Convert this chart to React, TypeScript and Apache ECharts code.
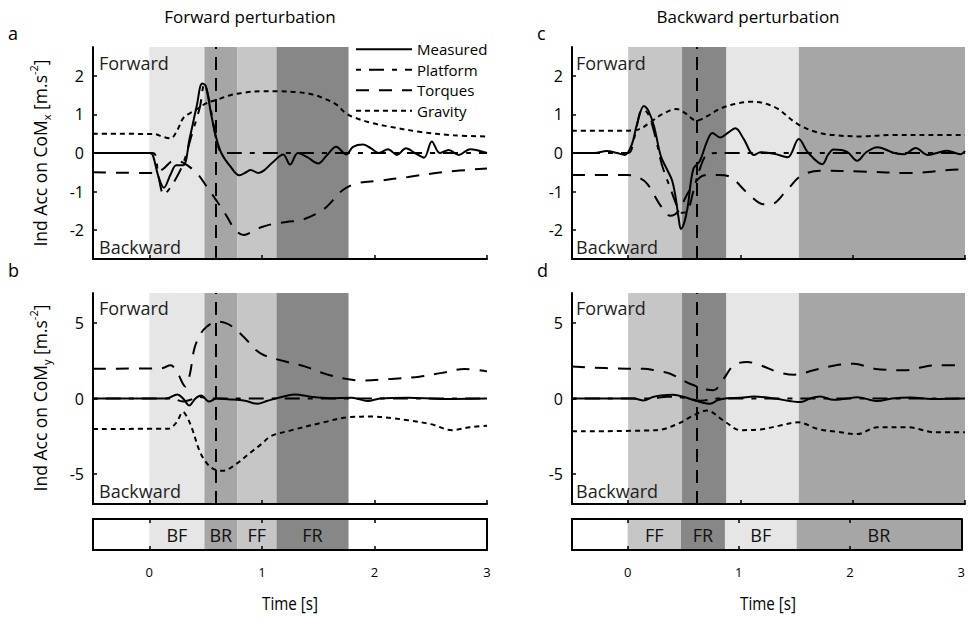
import React, { useEffect, useRef } from 'react';
import * as echarts from 'echarts';

// Time axis and tick values
const T_MIN = -0.5;
const T_MAX = 3;
const timeTicks = [0, 1, 2, 3];
const accXTicks = [-2, -1, 0, 1, 2];
const accYTicks = [-5, 0, 5];
const ACCX_RANGE = 2.75;
const ACCY_RANGE = 7;

// Phases (start/end boundaries in seconds)
const fwdPhaseNames = ['BF', 'BR', 'FF', 'FR'];
const fwdPhaseBounds = [0, 0.49, 0.78, 1.13, 1.77];
const bwdPhaseNames = ['FF', 'FR', 'BF', 'BR'];
const bwdPhaseBounds = [0, 0.48, 0.875, 1.52, 3];
const fwdOnset = 0.59;
const bwdOnset = 0.61;

const seriesNames = ['Measured', 'Platform', 'Torques', 'Gravity'];

// Forward perturbation, CoM x
const fwdXMeasured = [[-0.5, 0], [0.0, 0], [0.03, -0.05], [0.08, -0.6], [0.13, -0.9], [0.19, -0.55], [0.24, -0.32], [0.3, -0.32], [0.36, 0.4], [0.42, 1.2], [0.47, 1.8], [0.5, 1.75], [0.55, 1.0], [0.59, 0.45], [0.64, 0.0], [0.72, -0.35], [0.8, -0.58], [0.86, -0.5], [0.9, -0.44], [0.97, -0.52], [1.02, -0.45], [1.09, -0.26], [1.19, -0.04], [1.25, -0.3], [1.32, 0.0], [1.4, -0.1], [1.5, -0.27], [1.58, -0.05], [1.66, 0.16], [1.75, -0.04], [1.81, 0.16], [1.9, 0.22], [1.97, 0.12], [2.04, 0.0], [2.12, 0.1], [2.2, -0.05], [2.28, 0.12], [2.36, 0.0], [2.44, -0.12], [2.51, 0.3], [2.58, 0.0], [2.66, 0.08], [2.75, -0.05], [2.85, 0.1], [3.0, 0.0]];
const fwdXPlatform = [[-0.5, 0], [0.03, 0], [0.08, -0.6], [0.13, -1.08], [0.16, -1.0], [0.22, -0.75], [0.3, -0.28], [0.38, 0.5], [0.45, 1.2], [0.49, 1.8], [0.53, 1.4], [0.56, 0.9], [0.6, 0.3], [0.64, 0.02], [0.7, 0], [3, 0]];
const fwdXTorques = [[-0.5, -0.5], [0.05, -0.52], [0.12, -0.42], [0.22, -0.2], [0.3, -0.25], [0.42, -0.52], [0.51, -0.87], [0.6, -1.25], [0.68, -1.6], [0.76, -1.98], [0.84, -2.13], [0.92, -2.03], [1.0, -1.92], [1.1, -1.84], [1.22, -1.79], [1.37, -1.72], [1.54, -1.48], [1.64, -1.2], [1.72, -0.96], [1.84, -0.79], [2.04, -0.72], [2.3, -0.62], [2.6, -0.5], [3.0, -0.4]];
const fwdXGravity = [[-0.5, 0.5], [0.05, 0.49], [0.12, 0.42], [0.19, 0.38], [0.25, 0.6], [0.3, 0.9], [0.36, 1.03], [0.43, 1.15], [0.5, 1.28], [0.6, 1.38], [0.72, 1.5], [0.85, 1.57], [1.0, 1.6], [1.15, 1.6], [1.31, 1.58], [1.45, 1.52], [1.54, 1.43], [1.66, 1.26], [1.75, 1.02], [1.84, 0.9], [1.99, 0.77], [2.14, 0.68], [2.4, 0.55], [2.7, 0.46], [3.0, 0.43]];

// Forward perturbation, CoM y
const fwdYMeasured = [[-0.5, 0], [0.15, 0], [0.25, 0.27], [0.3, 0.0], [0.355, -0.46], [0.41, 0.0], [0.46, 0.2], [0.53, -0.2], [0.6, 0], [0.7, -0.05], [0.85, -0.15], [0.96, -0.35], [1.05, -0.15], [1.15, 0.05], [1.29, 0.27], [1.45, 0.1], [1.6, 0.02], [1.8, 0.05], [1.94, -0.17], [2.05, 0], [2.3, 0.05], [2.6, -0.03], [3, 0]];
const fwdYPlatform = [[-0.5, 0], [0.2, 0], [0.3, -0.2], [0.36, -0.1], [0.45, 0.1], [0.55, 0], [3, 0]];
const fwdYTorques = [[-0.5, 1.98], [0.1, 2.0], [0.19, 2.2], [0.25, 1.7], [0.32, 0.8], [0.36, 1.6], [0.4, 3.3], [0.45, 4.2], [0.5, 4.7], [0.6, 5.1], [0.68, 5.0], [0.75, 4.7], [0.85, 4.0], [0.95, 3.2], [1.02, 2.87], [1.2, 2.47], [1.38, 2.13], [1.56, 1.64], [1.77, 1.27], [1.9, 1.2], [2.15, 1.3], [2.4, 1.45], [2.6, 1.7], [2.8, 1.95], [3, 1.8]];
const fwdYGravity = [[-0.5, -2.02], [0.17, -2.0], [0.24, -1.6], [0.3, -0.9], [0.34, -1.3], [0.38, -2.0], [0.46, -3.7], [0.55, -4.58], [0.65, -4.8], [0.75, -4.46], [0.9, -3.58], [1.0, -3.0], [1.08, -2.5], [1.25, -2.13], [1.55, -1.58], [1.77, -1.24], [2.0, -1.2], [2.15, -1.3], [2.3, -1.45], [2.5, -1.7], [2.69, -2.1], [2.85, -1.9], [3, -1.8]];

// Backward perturbation, CoM x
const bwdXMeasured = [[-0.5, 0], [-0.3, 0], [-0.19, 0.05], [-0.1, 0], [-0.03, -0.05], [0.03, 0.2], [0.08, 0.76], [0.14, 1.22], [0.18, 1.1], [0.23, 0.7], [0.29, -0.07], [0.345, -0.42], [0.39, -0.7], [0.42, -1.1], [0.45, -1.7], [0.47, -1.97], [0.5, -1.8], [0.53, -1.4], [0.58, -0.42], [0.64, -0.2], [0.7, 0.28], [0.75, 0.52], [0.82, 0.4], [0.9, 0.55], [0.955, 0.64], [1.03, 0.36], [1.12, -0.05], [1.18, 0.02], [1.3, -0.02], [1.42, -0.11], [1.52, 0.36], [1.6, 0.02], [1.73, -0.29], [1.78, -0.05], [1.83, 0.09], [1.95, 0.03], [2.04, -0.2], [2.12, 0.02], [2.22, 0.15], [2.37, 0], [2.46, -0.03], [2.56, 0.13], [2.67, -0.05], [2.75, 0.0], [2.84, 0.06], [2.96, -0.03], [3, 0.05]];
const bwdXPlatform = [[-0.5, 0], [0, 0], [0.05, 0.35], [0.13, 1.15], [0.18, 1.0], [0.24, 0.45], [0.3, -0.3], [0.38, -0.95], [0.44, -1.4], [0.48, -1.55], [0.53, -1.5], [0.58, -1.0], [0.64, -0.4], [0.7, -0.05], [0.8, 0], [3, 0]];
const bwdXTorques = [[-0.5, -0.57], [-0.01, -0.57], [0.08, -0.62], [0.17, -0.8], [0.29, -1.37], [0.375, -1.63], [0.45, -1.5], [0.52, -1.1], [0.6, -0.75], [0.68, -0.58], [0.8, -0.57], [0.91, -0.62], [1.06, -1.03], [1.21, -1.33], [1.27, -1.33], [1.42, -0.94], [1.54, -0.59], [1.71, -0.46], [2.07, -0.48], [2.52, -0.52], [2.96, -0.43], [3, -0.43]];
const bwdXGravity = [[-0.5, 0.58], [0, 0.58], [0.1, 0.62], [0.2, 0.8], [0.3, 1.0], [0.43, 1.14], [0.5, 1.05], [0.61, 0.84], [0.7, 0.95], [0.82, 1.15], [0.95, 1.27], [1.1, 1.33], [1.2, 1.3], [1.33, 1.15], [1.51, 0.75], [1.69, 0.53], [1.85, 0.46], [2.07, 0.43], [2.37, 0.47], [2.7, 0.47], [3, 0.47]];

// Backward perturbation, CoM y
const bwdYMeasured = [[-0.5, 0], [0.05, 0], [0.137, -0.13], [0.22, 0.1], [0.29, 0.2], [0.4, 0.25], [0.5, 0.1], [0.61, -0.17], [0.73, -0.35], [0.8, -0.1], [0.88, 0.02], [1.0, 0.05], [1.12, 0.13], [1.3, 0.0], [1.54, -0.24], [1.62, 0.0], [1.71, 0.13], [1.83, -0.09], [1.95, 0], [2.04, 0.09], [2.22, -0.17], [2.35, 0.0], [2.52, 0.06], [2.7, -0.03], [3, 0]];
const bwdYPlatform = [[-0.5, 0], [0.2, 0], [0.35, 0.12], [0.5, 0.05], [0.65, -0.15], [0.8, 0], [3, 0]];
const bwdYTorques = [[-0.5, 2.13], [-0.01, 1.98], [0.137, 1.98], [0.25, 1.85], [0.375, 1.64], [0.55, 0.98], [0.7, 0.6], [0.76, 0.55], [0.85, 1.3], [0.94, 2.2], [1.06, 2.42], [1.18, 2.2], [1.33, 1.76], [1.48, 1.58], [1.65, 1.87], [1.85, 2.2], [2.01, 2.31], [2.19, 1.98], [2.46, 1.87], [2.73, 2.2], [3, 2.2]];
const bwdYGravity = [[-0.5, -2.18], [0.256, -2.1], [0.435, -1.7], [0.61, -1.02], [0.7, -0.8], [0.85, -1.47], [1.0, -2.1], [1.18, -2.05], [1.35, -1.8], [1.51, -1.58], [1.69, -2.02], [1.85, -2.2], [2.04, -2.36], [2.22, -1.91], [2.49, -1.91], [2.73, -2.24], [3, -2.24]];

const FONT = "'Open Sans', 'Noto Sans', sans-serif";

const phaseColor: Record<string, string> = {
  BF: '#e6e6e6',
  FF: '#c6c6c6',
  BR: '#a6a6a6',
  FR: '#878787',
};

const dashOf: Record<string, any> = {
  Measured: 'solid',
  Platform: [5, 8, 15, 8],
  Torques: [13, 10],
  Gravity: [5, 4],
};

const gridBoxes = [
  { left: 93, top: 47, width: 394, height: 212 },
  { left: 93, top: 293, width: 394, height: 211 },
  { left: 572, top: 47, width: 393, height: 212 },
  { left: 572, top: 293, width: 393, height: 211 },
  { left: 93, top: 519, width: 394, height: 31 },
  { left: 572, top: 519, width: 393, height: 31 },
];

function phaseAreas(names: string[], bounds: number[], withLabel: boolean) {
  return names.map((n, i) => [
    {
      name: n,
      xAxis: bounds[i],
      itemStyle: { color: phaseColor[n] },
      label: { show: withLabel },
    },
    { xAxis: bounds[i + 1] },
  ]);
}

function buildOption() {
  const panels = [
    { lines: [fwdXMeasured, fwdXPlatform, fwdXTorques, fwdXGravity], names: fwdPhaseNames, bounds: fwdPhaseBounds, onset: fwdOnset, range: ACCX_RANGE, ticks: accXTicks },
    { lines: [fwdYMeasured, fwdYPlatform, fwdYTorques, fwdYGravity], names: fwdPhaseNames, bounds: fwdPhaseBounds, onset: fwdOnset, range: ACCY_RANGE, ticks: accYTicks },
    { lines: [bwdXMeasured, bwdXPlatform, bwdXTorques, bwdXGravity], names: bwdPhaseNames, bounds: bwdPhaseBounds, onset: bwdOnset, range: ACCX_RANGE, ticks: accXTicks },
    { lines: [bwdYMeasured, bwdYPlatform, bwdYTorques, bwdYGravity], names: bwdPhaseNames, bounds: bwdPhaseBounds, onset: bwdOnset, range: ACCY_RANGE, ticks: accYTicks },
  ];

  const axisLine = { show: true, onZero: false, lineStyle: { color: '#000', width: 2 } };
  const xAxis: any[] = [];
  const yAxis: any[] = [];
  const series: any[] = [];

  panels.forEach((p, i) => {
    xAxis.push({
      type: 'value', gridIndex: i, min: T_MIN, max: T_MAX, z: 10,
      axisLine,
      axisTick: { show: true, inside: true, length: 4, customValues: timeTicks, lineStyle: { color: '#000', width: 1.5 } },
      axisLabel: { show: false },
      splitLine: { show: false },
    });
    yAxis.push({
      type: 'value', gridIndex: i, min: -p.range, max: p.range, z: 10,
      axisLine,
      axisTick: { show: true, inside: true, length: 4, customValues: p.ticks, lineStyle: { color: '#000', width: 1.5 } },
      axisLabel: { show: true, customValues: p.ticks, margin: 9, color: '#000', fontSize: 16, fontFamily: FONT },
      splitLine: { show: false },
    });
    series.push({
      type: 'line', xAxisIndex: i, yAxisIndex: i, data: [], silent: true, z: 1,
      markArea: { silent: true, data: phaseAreas(p.names, p.bounds, false) },
    });
    p.lines.forEach((d, k) => {
      const name = seriesNames[k];
      const s: any = {
        name, type: 'line', xAxisIndex: i, yAxisIndex: i, data: d,
        symbol: 'none', showSymbol: false, smooth: 0.35, silent: true, z: 3,
        lineStyle: { color: '#000', width: 2, type: dashOf[name] },
        itemStyle: { color: '#000' },
      };
      if (k === 0) {
        s.markLine = {
          silent: true, symbol: 'none', label: { show: false },
          lineStyle: { color: '#000', width: 2, type: [13, 8] },
          data: [{ xAxis: p.onset }],
        };
      }
      series.push(s);
    });
  });

  // Phase bars under each column
  [
    { names: fwdPhaseNames, bounds: fwdPhaseBounds },
    { names: bwdPhaseNames, bounds: bwdPhaseBounds },
  ].forEach((p, j) => {
    const gi = 4 + j;
    const xb = xAxis.length;
    xAxis.push({
      type: 'value', gridIndex: gi, min: T_MIN, max: T_MAX, z: 10, position: 'bottom',
      axisLine,
      axisTick: { show: true, inside: true, length: 4, customValues: timeTicks, lineStyle: { color: '#000', width: 1.5 } },
      axisLabel: { show: true, customValues: timeTicks, margin: 15, color: '#000', fontSize: 13, fontFamily: FONT },
      splitLine: { show: false },
    });
    xAxis.push({
      type: 'value', gridIndex: gi, min: T_MIN, max: T_MAX, z: 10, position: 'top',
      axisLine,
      axisTick: { show: true, inside: true, length: 4, customValues: timeTicks, lineStyle: { color: '#000', width: 1.5 } },
      axisLabel: { show: false },
      splitLine: { show: false },
    });
    const yb = yAxis.length;
    yAxis.push({
      type: 'value', gridIndex: gi, min: 0, max: 1, z: 10, position: 'left',
      axisLine, axisTick: { show: false }, axisLabel: { show: false }, splitLine: { show: false },
    });
    yAxis.push({
      type: 'value', gridIndex: gi, min: 0, max: 1, z: 10, position: 'right',
      axisLine, axisTick: { show: false }, axisLabel: { show: false }, splitLine: { show: false },
    });
    series.push({
      type: 'line', xAxisIndex: xb, yAxisIndex: yb, data: [], silent: true, z: 1,
      markArea: {
        silent: true,
        label: { show: true, position: 'inside', color: '#111', fontSize: 18, fontFamily: FONT },
        data: phaseAreas(p.names, p.bounds, true),
      },
    });
  });

  const txt = (x: number, y: number, text: string, extra: any = {}, scaleX = 1) => ({
    type: 'text', x, y, z: 100, silent: true, scaleX,
    style: { text, fontSize: 17, fontFamily: FONT, fill: '#000', align: 'left', verticalAlign: 'middle', ...extra },
  });

  const yName = (y: number, sub: string) => ({
    type: 'text', x: 40, y, z: 100, silent: true, rotation: Math.PI / 2,
    style: {
      text: `{a|Ind Acc on CoM}{s|${sub}}{a| [m.s}{p|-2}{a|]}`,
      align: 'center', verticalAlign: 'middle',
      rich: {
        a: { fontSize: 17.5, fontFamily: FONT, fill: '#000', lineHeight: 24 },
        s: { fontSize: 11, fontFamily: FONT, fill: '#000', lineHeight: 11, verticalAlign: 'bottom' },
        p: { fontSize: 11, fontFamily: FONT, fill: '#000', lineHeight: 11, verticalAlign: 'top' },
      },
    },
  });

  const dirStyle = { fill: '#1e1e1e', fontSize: 18 };
  const graphic = [
    txt(250, 16, 'Forward perturbation', { align: 'center' }),
    txt(748, 16, 'Backward perturbation', { align: 'center' }),
    txt(8, 33, 'a', { fontSize: 18 }), txt(8, 270, 'b', { fontSize: 18 }),
    txt(537, 33, 'c', { fontSize: 18 }), txt(537, 270, 'd', { fontSize: 18 }),
    txt(99, 63, 'Forward', dirStyle),
    txt(99, 247, 'Backward', dirStyle),
    txt(99, 308, 'Forward', dirStyle),
    txt(99, 491, 'Backward', dirStyle),
    txt(576, 63, 'Forward', dirStyle),
    txt(576, 247, 'Backward', dirStyle),
    txt(576, 308, 'Forward', dirStyle),
    txt(576, 491, 'Backward', dirStyle),
    txt(290, 603, 'Time [s]', { align: 'center', fontSize: 19 }, 0.8),
    txt(768, 603, 'Time [s]', { align: 'center', fontSize: 19 }, 0.8),
    yName(153, 'x'),
    yName(398, 'y'),
  ];

  return {
    animation: false,
    backgroundColor: '#fff',
    grid: gridBoxes.map((g) => ({ ...g, containLabel: false })),
    xAxis,
    yAxis,
    legend: {
      data: seriesNames,
      orient: 'vertical',
      left: 355,
      top: 39,
      padding: 0,
      itemWidth: 56,
      itemHeight: 1,
      itemGap: 0,
      selectedMode: false,
      textStyle: { fontSize: 15, fontFamily: FONT, color: '#000', lineHeight: 20.5 },
      z: 50,
    },
    series,
    graphic,
  };
}

export default function App() {
  const ref = useRef<HTMLDivElement>(null);
  useEffect(() => {
    if (!ref.current) return;
    const chart = echarts.init(ref.current, undefined, { renderer: 'svg' });
    chart.setOption(buildOption() as any);
    return () => chart.dispose();
  }, []);
  return (
    <div
      ref={ref}
      style={{ position: 'absolute', left: 0, top: 0, width: 968, height: 617, background: '#fff' }}
    />
  );
}
